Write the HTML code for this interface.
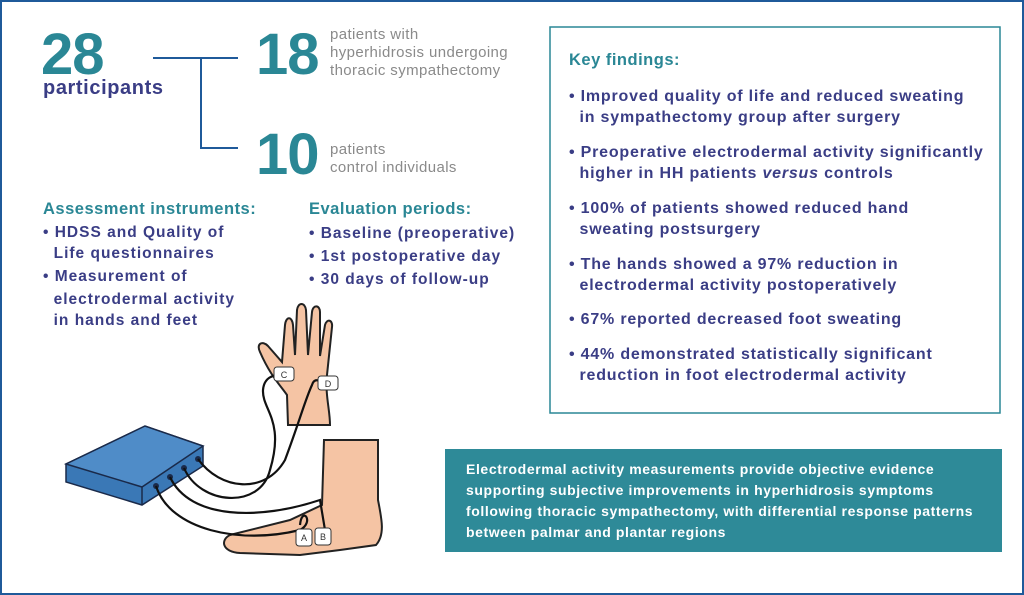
<!DOCTYPE html>
<html><head><meta charset="utf-8"><style>
body{margin:0;width:1024px;height:595px;position:relative;background:#fff;font-family:"Liberation Sans",sans-serif;overflow:hidden}
.frame{position:absolute;left:0;top:0;width:1020px;height:591px;border:2px solid #1f5a9a}
.a{position:absolute;white-space:nowrap}
.big{font-size:58px;font-weight:bold;color:#2a8795;letter-spacing:-1px;line-height:58px}
.gray{font-size:15px;color:#8a8a8a;line-height:18px;letter-spacing:0.4px}
.h{font-size:16.5px;font-weight:bold;color:#2a8795;letter-spacing:0.5px}
.nv{font-size:15.5px;font-weight:bold;color:#3a3d85;line-height:21px;letter-spacing:1px}
.kf{font-size:16px;font-weight:bold;color:#3a3d85;line-height:20.5px;letter-spacing:0.8px}
</style></head><body>
<div class="frame"></div>
<div class="a big" style="left:41px;top:26px">28</div>
<div class="a" style="left:43px;top:77px;font-size:20px;font-weight:bold;color:#3a3d85;letter-spacing:0.6px">participants</div>
<svg class="a" style="left:0;top:0" width="1024" height="595">
<path d="M153 58H238M201 58V148H238" stroke="#1f5a9a" stroke-width="2" fill="none"/>
<rect x="550" y="27" width="450" height="386" fill="none" stroke="#2a8795" stroke-width="1.5"/>
<rect x="445" y="449" width="557" height="103" fill="#2e8a98"/>
<!-- hand -->
<path d="M288 425 L287 395 C280 385 270 375 260 352 C256 344 262 340 268 346 L282 362 L285 325 C286 316 292 316 293 325 L295 355 L297 310 C298 302 305 302 306 310 L308 355 L312 312 C313 304 320 305 320 312 L320 356 L325 325 C327 318 333 320 332 327 L327 375 C325 395 330 410 330 425Z" fill="#f5c4a4" stroke="#222" stroke-width="2"/>
<!-- foot -->
<path d="M324 440 L378 440 L378 500 C382 520 385 535 376 545 L340 550 L300 555 L240 553 C222 552 220 540 230 535 L290 520 L322 505Z" fill="#f5c4a4" stroke="#222" stroke-width="2"/>
<!-- box -->
<path d="M66 464 L145 426 L203 446 L203 466 L142 505 L66 482Z" fill="#3a78b6" stroke="#1a2a4a" stroke-width="1.5"/>
<path d="M66 464 L142 487 L203 446 L145 426Z" fill="#4f8cc8" stroke="#1a2a4a" stroke-width="1.5"/>
<path d="M142 487 L142 505" stroke="#1a2a4a" stroke-width="1.5"/>
<g fill="#1a2a4a"><circle cx="156" cy="486" r="3"/><circle cx="170" cy="477" r="3"/><circle cx="184" cy="468" r="3"/><circle cx="198" cy="459" r="3"/></g>
<g stroke="#111" stroke-width="2.2" fill="none">
<path d="M156 486 C170 530 240 545 300 530 C315 522 302 505 300 525"/>
<path d="M170 477 C190 520 260 520 320 500 L325 530"/>
<path d="M184 468 C200 505 260 510 270 470 C285 420 262 410 263 390 C264 378 272 374 285 375"/>
<path d="M198 459 C220 490 265 495 285 460 C300 420 305 400 312 385 C314 378 320 380 320 383"/>
</g>
<g fill="#fff" stroke="#333" stroke-width="1"><rect x="274" y="367" width="20" height="14" rx="3"/><rect x="318" y="376" width="20" height="14" rx="3"/><rect x="296" y="529" width="16" height="17" rx="3"/><rect x="315" y="528" width="16" height="17" rx="3"/></g>
<g font-size="9" text-anchor="middle" fill="#333" font-family="Liberation Sans"><text x="284" y="378">C</text><text x="328" y="387">D</text><text x="304" y="541">A</text><text x="323" y="540">B</text></g>
</svg>
<div class="a big" style="left:256px;top:26px">18</div>
<div class="a big" style="left:256px;top:126px">10</div>
<div class="a gray" style="left:330px;top:26px">patients with<br>hyperhidrosis undergoing<br>thoracic sympathectomy</div>
<div class="a gray" style="left:330px;top:141px">patients<br>control individuals</div>
<div class="a h" style="left:43px;top:200px">Assessment instruments:</div>
<div class="a nv" style="left:43px;top:222px">• HDSS and Quality of<br>&nbsp;&nbsp;Life questionnaires<br><span style="line-height:25px">• Measurement of</span><br>&nbsp;&nbsp;electrodermal activity<br>&nbsp;&nbsp;in hands and feet</div>
<div class="a h" style="left:309px;top:200px">Evaluation periods:</div>
<div class="a nv" style="left:309px;top:222px;line-height:23px">• Baseline (preoperative)<br>• 1st postoperative day<br>• 30 days of follow-up</div>
<div class="a h" style="left:569px;top:51px">Key findings:</div>
<div class="a kf" style="left:569px;top:87px">• Improved quality of life and reduced sweating<br>&nbsp;&nbsp;in sympathectomy group after surgery</div>
<div class="a kf" style="left:569px;top:143px">• Preoperative electrodermal activity significantly<br>&nbsp;&nbsp;higher in HH patients <i>versus</i> controls</div>
<div class="a kf" style="left:569px;top:199px">• 100% of patients showed reduced hand<br>&nbsp;&nbsp;sweating postsurgery</div>
<div class="a kf" style="left:569px;top:255px">• The hands showed a 97% reduction in<br>&nbsp;&nbsp;electrodermal activity postoperatively</div>
<div class="a kf" style="left:569px;top:310px">• 67% reported decreased foot sweating</div>
<div class="a kf" style="left:569px;top:345px">• 44% demonstrated statistically significant<br>&nbsp;&nbsp;reduction in foot electrodermal activity</div>
<div class="a" style="left:466px;top:459px;font-size:14px;font-weight:bold;color:#fff;line-height:21px;letter-spacing:0.6px">Electrodermal activity measurements provide objective evidence<br>supporting subjective improvements in hyperhidrosis symptoms<br>following thoracic sympathectomy, with differential response patterns<br>between palmar and plantar regions</div>
</body></html>
